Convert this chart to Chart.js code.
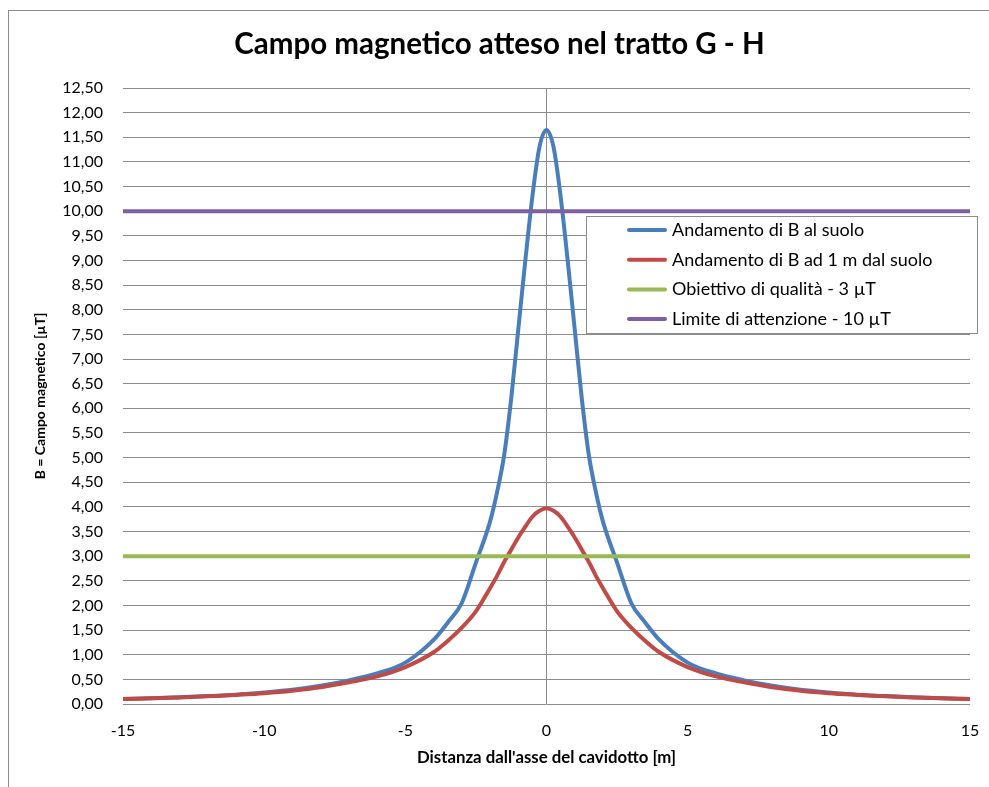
<!DOCTYPE html>
<html>
<head>
<meta charset="utf-8">
<script src="https://cdn.jsdelivr.net/npm/chart.js@4/dist/chart.umd.min.js"></script>
<style>
  html, body { margin: 0; padding: 0; background: #fff; }
  #wrap { position: relative; width: 989px; height: 787px; }
  #frame { position: absolute; left: 8px; top: 10px; right: 0; bottom: 0; border-left: 1px solid #8c8c8c; border-top: 1px solid #8c8c8c; }
  canvas { position: absolute; left: 0; top: 0; }
</style>
</head>
<body>
<div id="wrap">
  <div id="frame"></div>
  <canvas id="chart" width="989" height="787"></canvas>
</div>
<script>
// Distance from the cable axis [m]
const distances = [-15, -14, -13, -12, -11, -10, -9, -8, -7, -6, -5, -4, -3.5, -3, -2.5, -2, -1.75, -1.5, -1.25, -1, -0.75, -0.5, -0.25,
  0, 0.25, 0.5, 0.75, 1, 1.25, 1.5, 1.75, 2, 2.5, 3, 3.5, 4, 5, 6, 7, 8, 9, 10, 11, 12, 13, 14, 15];

// B at ground level [µT]
const groundB = [0.10, 0.115, 0.135, 0.16, 0.19, 0.235, 0.29, 0.37, 0.48, 0.62, 0.84, 1.30, 1.65, 2.05, 2.87, 3.70, 4.30, 5.05, 6.20, 7.60, 9.00, 10.30, 11.30,
  11.65, 11.30, 10.30, 9.00, 7.60, 6.20, 5.05, 4.30, 3.70, 2.87, 2.05, 1.65, 1.30, 0.84, 0.62, 0.48, 0.37, 0.29, 0.235, 0.19, 0.16, 0.135, 0.115, 0.10];

// B at 1 m above ground [µT]
const oneMeterB = [0.10, 0.115, 0.13, 0.155, 0.185, 0.22, 0.27, 0.34, 0.44, 0.56, 0.75, 1.05, 1.28, 1.55, 1.88, 2.35, 2.60, 2.88, 3.13, 3.38, 3.60, 3.80, 3.92,
  3.97, 3.92, 3.80, 3.60, 3.38, 3.13, 2.88, 2.60, 2.35, 1.88, 1.55, 1.28, 1.05, 0.75, 0.56, 0.44, 0.34, 0.27, 0.22, 0.185, 0.155, 0.13, 0.115, 0.10];

// Limits
const limitX = [-15, 15];
const qualityTarget = [3, 3];
const attentionLimit = [10, 10];

const seriesLabels = [
  'Andamento di B al suolo',
  'Andamento di B ad 1 m dal suolo',
  'Obiettivo di qualità - 3 µT',
  'Limite di attenzione - 10 µT'
];
const seriesColors = ['#4a7ebb', '#be4b48', '#98b954', '#7d60a0'];

const FONT = 'Lato, "Open Sans", sans-serif';
const GRID = '#8c8c8c';

function toPoints(xs, ys) {
  return xs.map((x, i) => ({ x: x, y: ys[i] }));
}

// Legend box drawn inside the plot like the Excel one
const boxLegend = {
  id: 'boxLegend',
  afterDatasetsDraw(chart) {
    const ctx = chart.ctx;
    const left = 586, top = 216, right = 977, bottom = 333;
    ctx.save();
    ctx.fillStyle = '#fff';
    ctx.fillRect(left, top, right - left, bottom - top);
    ctx.strokeStyle = GRID;
    ctx.lineWidth = 1;
    ctx.strokeRect(left + 0.5, top + 0.5, right - left, bottom - top);
    ctx.font = '18px ' + FONT;
    ctx.textBaseline = 'middle';
    ctx.fillStyle = '#000';
    chart.data.datasets.forEach((ds, i) => {
      const y = 230 + i * 29.7;
      ctx.strokeStyle = ds.borderColor;
      ctx.lineWidth = 4;
      ctx.lineCap = 'round';
      ctx.beginPath();
      ctx.moveTo(629, y);
      ctx.lineTo(665, y);
      ctx.stroke();
      ctx.fillText(ds.label, 672, y);
    });
    ctx.restore();
  }
};

const ctx = document.getElementById('chart').getContext('2d');
new Chart(ctx, {
  type: 'scatter',
  data: {
    datasets: [
      { label: seriesLabels[0], data: toPoints(distances, groundB), borderColor: seriesColors[0], order: 4 },
      { label: seriesLabels[1], data: toPoints(distances, oneMeterB), borderColor: seriesColors[1], order: 3 },
      { label: seriesLabels[2], data: toPoints(limitX, qualityTarget), borderColor: seriesColors[2], order: 2 },
      { label: seriesLabels[3], data: toPoints(limitX, attentionLimit), borderColor: seriesColors[3], order: 1 }
    ].map(ds => Object.assign(ds, {
      showLine: true,
      borderWidth: 4,
      pointRadius: 0,
      pointHoverRadius: 0,
      cubicInterpolationMode: 'monotone',
      borderCapStyle: 'round',
      backgroundColor: ds.borderColor
    }))
  },
  options: {
    responsive: false,
    animation: false,
    layout: { padding: { left: 10, right: 0, top: 0, bottom: 0 } },
    plugins: {
      legend: { display: false },
      tooltip: { enabled: false },
      title: {
        display: true,
        text: 'Campo magnetico atteso nel tratto G - H',
        color: '#000',
        font: { family: FONT, size: 29.5, weight: 'bold' },
        padding: { top: 27, bottom: 25.6 }
      }
    },
    scales: {
      x: {
        type: 'linear',
        min: -15,
        max: 15,
        ticks: {
          stepSize: 5,
          color: '#000',
          padding: 17,
          font: { family: FONT, size: 16 }
        },
        grid: {
          drawTicks: false,
          color: c => (c.tick && c.tick.value === 0 ? GRID : 'rgba(0,0,0,0)'),
          lineWidth: 1
        },
        border: { display: false },
        title: {
          display: true,
          text: "Distanza dall'asse del cavidotto [m]",
          color: '#000',
          font: { family: FONT, size: 16.8, weight: 'bold' },
          padding: { top: 4, bottom: 19 }
        },
        afterFit: scale => {
          scale.height = 83;
          scale.paddingLeft = 0;
          scale.paddingRight = 19;
        }
      },
      y: {
        min: 0,
        max: 12.5,
        ticks: {
          stepSize: 0.5,
          color: '#000',
          padding: 20,
          font: { family: FONT, size: 16 },
          callback: v => v.toFixed(2).replace('.', ',')
        },
        grid: { drawTicks: false, color: GRID, lineWidth: 1 },
        border: { display: false },
        title: {
          display: true,
          text: 'B = Campo magnetico [µT]',
          color: '#000',
          font: { family: FONT, size: 14, weight: 'bold' },
          padding: { top: 22, bottom: 4 }
        },
        afterFit: scale => { scale.width = 113; }
      }
    }
  },
  plugins: [boxLegend]
});
</script>
</body>
</html>
